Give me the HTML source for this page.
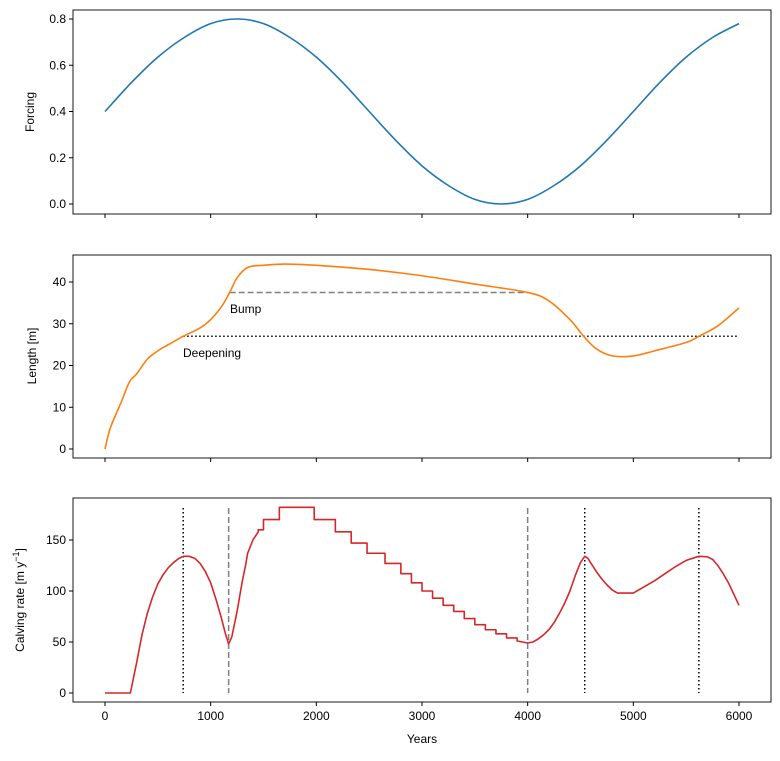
<!DOCTYPE html>
<html><head><meta charset="utf-8"><style>
body{margin:0;background:#fff}
svg{font-family:"Liberation Sans","DejaVu Sans",sans-serif;font-size:12px}
</style></head><body>
<svg id="c" width="780" height="756" xmlns="http://www.w3.org/2000/svg"></svg>
<script>
const forcingYears=[0,250,500,750,1000,1250,1500,1750,2000,2250,2500,2750,3000,3250,3500,3750,4000,4250,4500,4750,5000,5250,5500,5750,6000];
const forcingVals=[0.4,0.525,0.635,0.72,0.78,0.8,0.78,0.72,0.635,0.525,0.4,0.276,0.165,0.08,0.02,0,0.02,0.08,0.165,0.276,0.4,0.525,0.635,0.72,0.78];
const lengthYears=[0,50,150,230,300,400,500,600,740,900,1000,1100,1180,1250,1350,1500,1700,2000,2500,3000,3500,4000,4200,4400,4530,4650,4800,5000,5200,5500,5620,5800,6000];
const lengthVals=[0,5,11,16,18,21.5,23.5,25,27,29,31,34,37.5,41,43.5,44,44.3,44,43,41.5,39.5,37.5,35.5,31,27,24,22.3,22.3,23.5,25.5,27,29.5,33.8];
const calvYears=[0,240,270,300,350,400,450,500,550,600,650,700,740,800,850,900,950,1000,1050,1100,1140,1170,1200,1250,1300,1330,1350,1400,1450,1450,1500,1500,1650,1650,1980,1980,2180,2180,2330,2330,2480,2480,2650,2650,2800,2800,2900,2900,3000,3000,3100,3100,3200,3200,3300,3300,3400,3400,3500,3500,3600,3600,3700,3700,3800,3800,3900,3900,4000,4050,4100,4150,4200,4250,4300,4350,4400,4450,4500,4540,4570,4600,4650,4700,4750,4800,4850,5000,5100,5200,5300,5400,5500,5620,5700,5750,5800,5850,5900,5950,6000];
const calvVals=[0,0,15,30,57,78,94,107,116,123,128,132,134,134,132,127,119,108,92,74,58,48,55,80,110,125,137,150,158,160,160,170,170,182,182,170,170,158,158,147,147,137,137,127,127,117,117,108,108,100,100,93,93,86,86,80,80,73,73,67,67,62,62,58,58,54,54,51,49,50,53,57,62,69,78,88,100,115,128,134,132,127,119,112,106,101,98,98,104,110,117,124,130,134,133.5,131,125,117,108,97,86];
const xTicks=[0,1000,2000,3000,4000,5000,6000];
const fTicks=[0,0.2,0.4,0.6,0.8];
const lTicks=[0,10,20,30,40];
const cTicks=[0,50,100,150];
const dottedYears=[740,4540,5620];
const dashedYears=[1170,4000];
const bumpLevel=37.5, bumpStart=1180, bumpEnd=4000;
const deepLevel=27, deepStart=740, deepEnd=6000;

const svg=document.getElementById('c');
const NS='http://www.w3.org/2000/svg';
function el(tag,attrs,parent){const e=document.createElementNS(NS,tag);for(const k in attrs)e.setAttribute(k,attrs[k]);(parent||svg).appendChild(e);return e;}
const X=t=>105+t*(634/6000);
const L=73,R=771;
function mkY(v0,p0,v1,p1){return v=>p0+(v-v0)*(p1-p0)/(v1-v0);}
const yF=mkY(0,204,0.8,19);
const yL=mkY(0,449,40,282);
const yC=mkY(0,693,150,540);

function axes(top,bot,yfun,ticks,fmt,name,showX){
  const g=el('g',{});
  
  
  const r=el('rect',{x:L,y:top,width:R-L,height:bot-top,fill:'none',stroke:'#000','stroke-width':0.9},g);
  
  
  ticks.forEach(v=>{const y=yfun(v);
    el('line',{x1:L-4,x2:L,y1:y,y2:y,stroke:'#000'},g);
    const t=el('text',{x:L-7,y:y+4,'text-anchor':'end'},g);t.textContent=fmt(v);
    
    });
  xTicks.forEach(v=>{const x=X(v);
    el('line',{x1:x,x2:x,y1:bot,y2:bot+4,stroke:'#000'},g);
    if(showX){const t=el('text',{x:x,y:bot+18,'text-anchor':'middle'},g);t.textContent=v;
      
      }});
  return g;
}
function line(xs,vs,yfun,color,name){
  const p=el('polyline',{points:xs.map((t,i)=>X(t)+','+yfun(vs[i])).join(' '),fill:'none',stroke:color,'stroke-width':1.6,'stroke-linejoin':'round'});
  
  
}
function smooth(xs,vs,yfun,color,name){
  const P=xs.map((t,i)=>[X(t),yfun(vs[i])]);
  let d='M'+P[0][0]+','+P[0][1];
  for(let i=0;i<P.length-1;i++){
    const p0=P[Math.max(0,i-1)],p1=P[i],p2=P[i+1],p3=P[Math.min(P.length-1,i+2)];
    const c1=[p1[0]+(p2[0]-p0[0])/6,p1[1]+(p2[1]-p0[1])/6];
    const c2=[p2[0]-(p3[0]-p1[0])/6,p2[1]-(p3[1]-p1[1])/6];
    d+=` C${c1[0]},${c1[1]} ${c2[0]},${c2[1]} ${p2[0]},${p2[1]}`;
  }
  const p=el('path',{d:d,fill:'none',stroke:color,'stroke-width':1.6});
  
  
}
axes(10,214,yF,fTicks,v=>v.toFixed(1),'forcing',false);
axes(255,458,yL,lTicks,v=>v,'length',false);
axes(498,702,yC,cTicks,v=>v,'calving',true);

smooth(forcingYears,forcingVals,yF,'#1f77b4','forcing-line');
let h=el('line',{x1:X(bumpStart),x2:X(bumpEnd),y1:yL(bumpLevel),y2:yL(bumpLevel),stroke:'#808080','stroke-width':1.5,'stroke-dasharray':'6,3'});


h=el('line',{x1:X(deepStart),x2:X(deepEnd),y1:yL(deepLevel),y2:yL(deepLevel),stroke:'#000','stroke-width':1.5,'stroke-dasharray':'1.5,2.5'});


smooth(lengthYears,lengthVals,yL,'#ff7f0e','length-line');
let t=el('text',{x:230,y:313});t.textContent='Bump';


t=el('text',{x:183,y:357});t.textContent='Deepening';



dottedYears.forEach(v=>{const l=el('line',{x1:X(v),x2:X(v),y1:508,y2:693,stroke:'#000','stroke-width':1.5,'stroke-dasharray':'1.5,2.5'});
  
  });
dashedYears.forEach(v=>{const l=el('line',{x1:X(v),x2:X(v),y1:508,y2:693,stroke:'#808080','stroke-width':1.5,'stroke-dasharray':'6,3'});
  
  });
line(calvYears,calvVals,yC,'#d62728','calving-line');

function ylab(x,y,txt,name){const e=el('text',{x:x,y:y,'text-anchor':'middle',transform:`rotate(-90 ${x} ${y})`});e.innerHTML=txt;
  
  }
ylab(34,112,'Forcing','forcing-y-title');
ylab(36,356,'Length [m]','length-y-title');
ylab(24,600,'Calving rate [m y<tspan dy="-5" font-size="9">−1</tspan><tspan dy="5">]</tspan>','calving-y-title');
t=el('text',{x:422,y:743,'text-anchor':'middle'});t.textContent='Years';


</script>
</body></html>
